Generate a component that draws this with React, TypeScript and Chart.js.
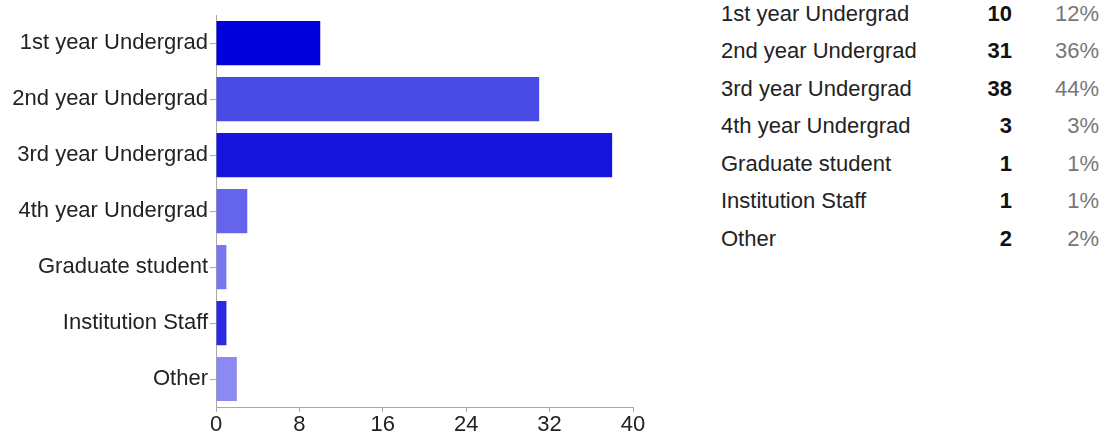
import React, { useEffect, useRef } from "react";
import { Chart, registerables } from "chart.js";

Chart.register(...registerables);

const categories = [
  "1st year Undergrad",
  "2nd year Undergrad",
  "3rd year Undergrad",
  "4th year Undergrad",
  "Graduate student",
  "Institution Staff",
  "Other",
];
const counts = [10, 31, 38, 3, 1, 1, 2];
const percents = ["12%", "36%", "44%", "3%", "1%", "1%", "2%"];
const barColors = ["#0000dc", "#4a4ae6", "#1515dc", "#6464ec", "#7878ee", "#2a2ae2", "#8a8af2"];
const xTicks = [0, 8, 16, 24, 32, 40];

const FONT = "'Liberation Sans', Arial, sans-serif";

export default function App() {
  const canvasRef = useRef<HTMLCanvasElement | null>(null);

  useEffect(() => {
    const ctx = canvasRef.current!.getContext("2d")!;
    const chart = new Chart(ctx, {
      type: "bar",
      data: {
        labels: categories,
        datasets: [
          {
            data: counts,
            backgroundColor: barColors,
            borderWidth: 0,
            barPercentage: 0.79,
            categoryPercentage: 1,
          },
        ],
      },
      options: {
        indexAxis: "y",
        animation: false,
        responsive: false,
        maintainAspectRatio: false,
        layout: { padding: { top: 15, right: 27, left: 0, bottom: 0 } },
        plugins: { legend: { display: false }, tooltip: { enabled: false } },
        scales: {
          x: {
            min: 0,
            max: 40,
            afterBuildTicks: (scale: any) => {
              scale.ticks = xTicks.map((v) => ({ value: v }));
            },
            afterFit: (scale: any) => {
              scale.height = 35;
            },
            grid: {
              display: true,
              drawOnChartArea: false,
              tickLength: 5,
              color: "#aaaaaa",
            },
            border: { display: true, color: "#aaaaaa", width: 1 },
            ticks: {
              color: "#222222",
              padding: 0,
              maxRotation: 0,
              autoSkip: false,
              font: { family: FONT, size: 22 },
            },
          },
          y: {
            afterFit: (scale: any) => {
              scale.width = 216;
            },
            grid: {
              display: true,
              drawOnChartArea: false,
              offset: false,
              tickLength: 6,
              color: "#aaaaaa",
            },
            border: { display: true, color: "#aaaaaa", width: 1 },
            ticks: {
              color: "#222222",
              padding: 2,
              autoSkip: false,
              font: { family: FONT, size: 22 },
            },
          },
        },
      },
    });
    return () => chart.destroy();
  }, []);

  const rowH = 37.5;
  const firstCenter = 13.3;

  return (
    <div
      style={{
        position: "fixed",
        left: 0,
        top: 0,
        width: 1105,
        height: 442,
        background: "#ffffff",
        fontFamily: FONT,
        overflow: "hidden",
      }}
    >
      <canvas
        ref={canvasRef}
        width={660}
        height={442}
        style={{ position: "absolute", left: 0, top: 0, width: 660, height: 442 }}
      />
      {categories.map((c, i) => {
        const top = firstCenter + i * rowH - rowH / 2;
        return (
          <React.Fragment key={c}>
            <div
              style={{
                position: "absolute",
                left: 721,
                top,
                height: rowH,
                lineHeight: `${rowH}px`,
                fontSize: 22,
                color: "#222222",
                whiteSpace: "nowrap",
              }}
            >
              {c}
            </div>
            <div
              style={{
                position: "absolute",
                right: 1105 - 1012,
                top,
                height: rowH,
                lineHeight: `${rowH}px`,
                fontSize: 22,
                fontWeight: "bold",
                color: "#111111",
                textAlign: "right",
              }}
            >
              {counts[i]}
            </div>
            <div
              style={{
                position: "absolute",
                right: 1105 - 1099,
                top,
                height: rowH,
                lineHeight: `${rowH}px`,
                fontSize: 22,
                color: "#777777",
                textAlign: "right",
              }}
            >
              {percents[i]}
            </div>
          </React.Fragment>
        );
      })}
    </div>
  );
}
